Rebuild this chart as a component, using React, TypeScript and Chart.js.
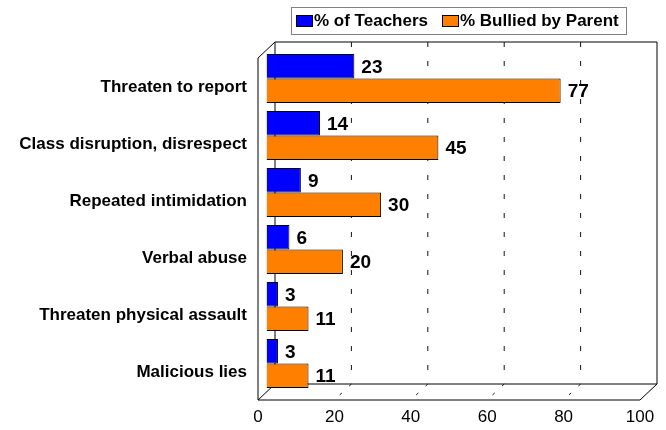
import React, { useEffect, useRef } from "react";
import { Chart, registerables } from "chart.js";

Chart.register(...registerables);

const categories = [
  "Threaten to report",
  "Class disruption, disrespect",
  "Repeated intimidation",
  "Verbal abuse",
  "Threaten physical assault",
  "Malicious lies",
];
const teachers = [23, 14, 9, 6, 3, 3];
const bulliedByParent = [77, 45, 30, 20, 11, 11];
const seriesNames = ["% of Teachers", "% Bullied by Parent"];
const xTicks = [0, 20, 40, 60, 80, 100];

const DX = 8.5;
const DY = 8;
const FONT = "'Liberation Sans', Arial, sans-serif";

const framePlugin = {
  id: "frame3d",
  beforeDatasetsDraw(chart: any) {
    const { ctx, chartArea, scales } = chart;
    const x = scales.x;
    const L = chartArea.left, R = chartArea.right, T = chartArea.top, B = chartArea.bottom;
    ctx.save();
    ctx.strokeStyle = "#000";
    ctx.lineWidth = 1;
    ctx.setLineDash([]);
    // back wall
    ctx.beginPath();
    ctx.moveTo(L + DX, T - DY);
    ctx.lineTo(R + DX, T - DY);
    ctx.lineTo(R + DX, B - DY);
    ctx.lineTo(L + DX, B - DY);
    ctx.closePath();
    ctx.stroke();
    // left wall
    ctx.beginPath();
    ctx.moveTo(L + DX, T - DY);
    ctx.lineTo(L - DX, T + DY);
    ctx.lineTo(L - DX, B + DY);
    ctx.lineTo(L + DX, B - DY);
    ctx.stroke();
    // floor
    ctx.beginPath();
    ctx.moveTo(L - DX, B + DY);
    ctx.lineTo(R - DX, B + DY);
    ctx.lineTo(R + DX, B - DY);
    ctx.stroke();
    // dashed gridlines
    ctx.strokeStyle = "#111";
    xTicks.forEach((v) => {
      if (v === 0 || v === 100) return;
      const px = x.getPixelForValue(v);
      ctx.setLineDash([5, 14]);
      ctx.beginPath();
      ctx.moveTo(px + DX, T - DY);
      ctx.lineTo(px + DX, B - DY);
      ctx.stroke();
      ctx.setLineDash([3, 10]);
      ctx.beginPath();
      ctx.moveTo(px + DX, B - DY);
      ctx.lineTo(px - DX, B + DY);
      ctx.stroke();
    });
    ctx.restore();
  },
  afterDatasetsDraw(chart: any) {
    const { ctx } = chart;
    ctx.save();
    ctx.font = `bold 19px ${FONT}`;
    ctx.fillStyle = "#000";
    ctx.textAlign = "left";
    ctx.textBaseline = "middle";
    chart.data.datasets.forEach((ds: any, di: number) => {
      const meta = chart.getDatasetMeta(di);
      meta.data.forEach((bar: any, i: number) => {
        ctx.fillText(String(ds.data[i]), bar.x + 7, bar.y + 1.5);
      });
    });
    // legend
    const lx = 291, ly = 7, lw = 335, lh = 27;
    ctx.fillStyle = "#fff";
    ctx.fillRect(lx, ly, lw, lh);
    ctx.strokeStyle = "#808080";
    ctx.lineWidth = 1;
    ctx.strokeRect(lx + 0.5, ly + 0.5, lw, lh);
    ctx.font = `bold 17px ${FONT}`;
    let cx = lx + 5;
    const colors = ["#0000FF", "#FF8000"];
    seriesNames.forEach((name, i) => {
      ctx.fillStyle = colors[i];
      ctx.fillRect(cx, ly + 8, 17, 12);
      ctx.strokeStyle = "#000";
      ctx.strokeRect(cx + 0.5, ly + 8.5, 16, 11);
      ctx.fillStyle = "#000";
      ctx.fillText(name, cx + 18, ly + 14.5);
      cx += 18 + ctx.measureText(name).width + 14;
    });
    ctx.restore();
  },
};

export default function App() {
  const ref = useRef<HTMLCanvasElement | null>(null);
  useEffect(() => {
    if (!ref.current) return;
    const chart = new Chart(ref.current, {
      type: "bar",
      data: {
        labels: categories,
        datasets: [
          {
            label: seriesNames[0],
            data: teachers,
            backgroundColor: "#0000FF",
            borderColor: "#000",
            borderWidth: 1,
          },
          {
            label: seriesNames[1],
            data: bulliedByParent,
            backgroundColor: "#FF8000",
            borderColor: "#000",
            borderWidth: 1,
          },
        ],
      },
      options: {
        indexAxis: "y",
        animation: false,
        responsive: true,
        maintainAspectRatio: false,
        layout: { padding: { top: 50, right: 17.5, left: 0, bottom: 0 } },
        datasets: { bar: { categoryPercentage: 0.86, barPercentage: 1 } },
        plugins: { legend: { display: false }, tooltip: { enabled: false } },
        scales: {
          x: {
            min: 0,
            max: 100,
            ticks: {
              stepSize: 20,
              color: "#000",
              font: { family: FONT, size: 17 },
              labelOffset: -DX,
              padding: 15,
              maxRotation: 0,
            },
            grid: { display: false, drawTicks: false },
            border: { display: false },
            afterFit: (s: any) => {
              s.height = 38;
              s.paddingLeft = 0;
              s.paddingRight = 0;
            },
          },
          y: {
            ticks: {
              color: "#000",
              font: { family: FONT, size: 17, weight: "bold" },
              labelOffset: DY + 1,
              padding: 19.5,
            },
            grid: { display: false, drawTicks: false },
            border: { display: false },
            afterFit: (s: any) => {
              s.width = 266.5;
              s.paddingTop = 0;
              s.paddingBottom = 0;
            },
          },
        },
      },
      plugins: [framePlugin],
    });
    return () => chart.destroy();
  }, []);
  return (
    <div style={{ position: "absolute", left: 0, top: 0, width: 666, height: 430, background: "#fff" }}>
      <canvas ref={ref} />
    </div>
  );
}
